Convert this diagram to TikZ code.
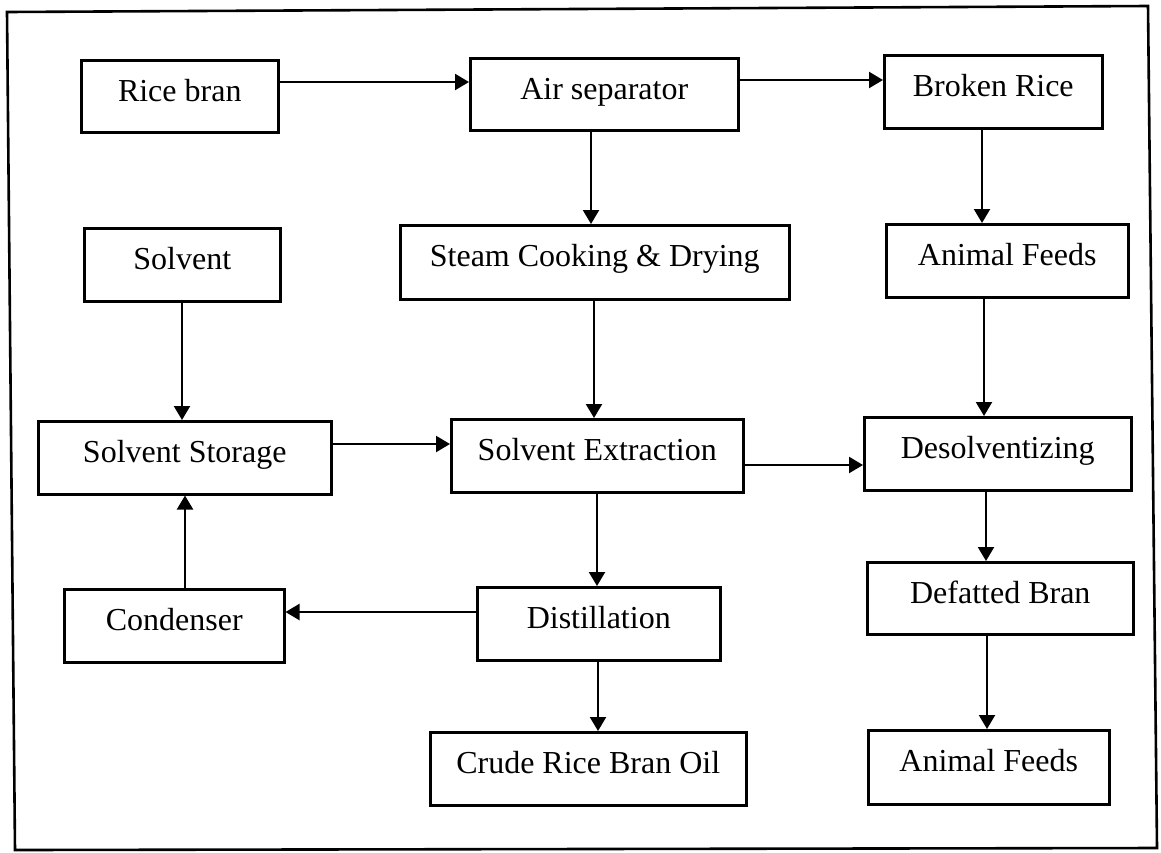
\documentclass[tikz,border=0pt]{standalone}
\usepackage{fontspec}
\setmainfont{Liberation Serif}
\usetikzlibrary{arrows.meta}
\begin{document}
\begin{tikzpicture}[x=0.5pt,y=-0.5pt,
  box/.style={draw, line width=1.25pt, inner sep=0pt, anchor=north west,
    text height=20.5pt, text depth=16pt, minimum height=0pt,
    font=\fontsize{16pt}{19pt}\selectfont},
  arr/.style={line width=1.1pt, -{Triangle[length=7pt,width=8pt]}}]
\useasboundingbox (0,0) rectangle (1161,852);
\draw[line width=1.3pt] (7,12) -- (1148,6) -- (1157,848) -- (15,850) -- cycle;

\node[box, minimum width=98.5pt, text depth=15.5pt] (rice) at (80,59) {Rice bran};
\node[box, minimum width=134pt, text depth=15.5pt] (air) at (469,57) {Air separator};
\node[box, minimum width=109pt] (broken) at (883,54) {Broken Rice};
\node[box, minimum width=98pt] (solvent) at (83,227) {Solvent};
\node[box, minimum width=194.5pt, text depth=16.5pt] (steam) at (399,224) {Steam Cooking \& Drying};
\node[box, minimum width=121pt] (feedsA) at (885,223) {Animal Feeds};
\node[box, minimum width=146.5pt] (storage) at (37,420) {Solvent Storage};
\node[box, minimum width=146pt] (extract) at (450,418) {Solvent Extraction};
\node[box, minimum width=133.5pt] (desolv) at (863,416) {Desolventizing};
\node[box, minimum width=110pt] (condenser) at (63,588) {Condenser};
\node[box, minimum width=121.5pt] (distill) at (476,586) {Distillation};
\node[box, minimum width=133pt, text depth=15.5pt] (defat) at (866,561) {Defatted Bran};
\node[box, minimum width=158pt] (crude) at (429,731) {Crude Rice Bran Oil};
\node[box, minimum width=120.5pt, text depth=16.5pt] (feedsB) at (867,729) {Animal Feeds};

\draw[arr] (rice.east |- 0,82) -- (air.west |- 0,82);
\draw[arr] (air.east |- 0,80) -- (broken.west |- 0,80);
\draw[arr] (air.south -| 591,0) -- (steam.north -| 591,0);
\draw[arr] (broken.south -| 982,0) -- (feedsA.north -| 982,0);
\draw[arr] (solvent.south -| 182,0) -- (storage.north -| 182,0);
\draw[arr] (steam.south -| 594,0) -- (extract.north -| 594,0);
\draw[arr] (feedsA.south -| 984,0) -- (desolv.north -| 984,0);
\draw[arr] (storage.east |- 0,444) -- (extract.west |- 0,444);
\draw[arr] (extract.east |- 0,465) -- (desolv.west |- 0,465);
\draw[arr] (extract.south -| 597,0) -- (distill.north -| 597,0);
\draw[arr] (desolv.south -| 986,0) -- (defat.north -| 986,0);
\draw[arr] (condenser.north -| 185,0) -- (storage.south -| 185,0);
\draw[arr] (distill.west |- 0,612) -- (condenser.east |- 0,612);
\draw[arr] (distill.south -| 598,0) -- (crude.north -| 598,0);
\draw[arr] (defat.south -| 987,0) -- (feedsB.north -| 987,0);
\end{tikzpicture}
\end{document}
